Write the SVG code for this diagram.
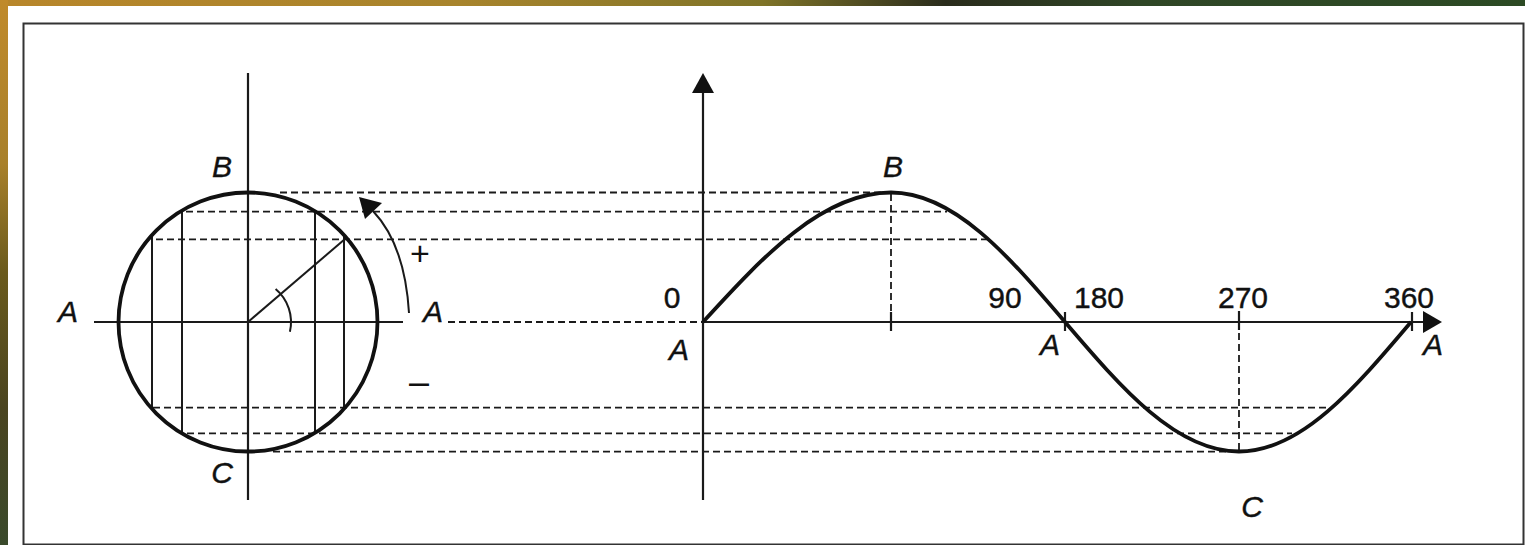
<svg xmlns="http://www.w3.org/2000/svg" width="1525" height="545" viewBox="0 0 1525 545">
  <defs>
    <linearGradient id="topStrip" x1="0" y1="0" x2="1" y2="0">
      <stop offset="0" stop-color="#b8862a"/>
      <stop offset="0.3" stop-color="#a8842c"/>
      <stop offset="0.5" stop-color="#7f7428"/>
      <stop offset="0.62" stop-color="#2a2c1c"/>
      <stop offset="0.75" stop-color="#2f4626"/>
      <stop offset="1" stop-color="#2c4a24"/>
    </linearGradient>
    <linearGradient id="leftStrip" x1="0" y1="0" x2="0" y2="1">
      <stop offset="0" stop-color="#c08a2a"/>
      <stop offset="0.3" stop-color="#a8802a"/>
      <stop offset="0.5" stop-color="#6a5a1c"/>
      <stop offset="0.75" stop-color="#4a4420"/>
      <stop offset="1" stop-color="#3a4a2c"/>
    </linearGradient>
    <style>
      .axis { stroke: #1a1a1a; stroke-width: 2.2; fill: none; }
      .thin { stroke: #1a1a1a; stroke-width: 2; fill: none; }
      .dash { stroke: #1a1a1a; stroke-width: 1.8; stroke-dasharray: 7 4; fill: none; }
      .heavy { stroke: #111; stroke-width: 3.8; fill: none; }
      .lbl { font-family: "Liberation Sans", Arial, sans-serif; font-size: 30px; fill: #111; stroke: #111; stroke-width: 0.4; text-anchor: middle; }
      .it { font-style: italic; }
    </style>
  </defs>

  <g id="background">
    <rect x="0" y="0" width="1525" height="545" fill="#ffffff"/>
    <rect x="0" y="0" width="1525" height="6" fill="url(#topStrip)"/>
    <rect x="0" y="0" width="8" height="545" fill="url(#leftStrip)"/>
    <rect x="23.5" y="23.5" width="1500" height="521" fill="none" stroke="#333" stroke-width="2"/>
  </g>

  <g id="connectors">
    <line class="dash" x1="280" y1="192.5" x2="884" y2="192.5"/>
    <line class="dash" x1="186" y1="211.7" x2="947" y2="211.7"/>
    <line class="dash" x1="156" y1="239.3" x2="990" y2="239.3"/>
    <line class="dash" x1="448" y1="322" x2="702" y2="322"/>
    <line class="dash" x1="153" y1="407.7" x2="1330" y2="407.7"/>
    <line class="dash" x1="187" y1="433.3" x2="1292" y2="433.3"/>
    <line class="dash" x1="273" y1="451.7" x2="1227" y2="451.7"/>
    <line class="dash" x1="891" y1="194" x2="891" y2="322"/>
    <line class="dash" x1="1239" y1="322" x2="1239" y2="450"/>
  </g>

  <g id="phasor-circle">
    <line class="axis" x1="248" y1="73" x2="248" y2="500"/>
    <line class="axis" x1="94" y1="322" x2="403" y2="322"/>
    <line class="thin" x1="152" y1="235" x2="152" y2="409"/>
    <line class="thin" x1="182" y1="210.6" x2="182" y2="433.4"/>
    <line class="thin" x1="315" y1="211" x2="315" y2="433"/>
    <line class="thin" x1="344" y1="235" x2="344" y2="409"/>
    <line class="thin" x1="248" y1="322" x2="345" y2="239"/>
    <path class="thin" d="M289.9,331.7 A43,43 0 0 0 275.6,289"/>
    <circle class="heavy" cx="248" cy="322" r="129.5"/>
    <path class="thin" d="M409,313 Q405,245 373,211"/>
    <polygon points="359,197 365,219 382,203" fill="#111"/>
  </g>

  <g id="sine-graph">
    <line class="axis" x1="703" y1="90" x2="703" y2="500"/>
    <polygon points="703,73 692,93 714,93" fill="#111"/>
    <line class="axis" x1="703" y1="322" x2="1425" y2="322"/>
    <polygon points="1442,322 1423,311 1423,333" fill="#111"/>
    <line class="axis" x1="891" y1="312" x2="891" y2="331"/>
    <line class="axis" x1="1065" y1="312" x2="1065" y2="331"/>
    <line class="axis" x1="1239" y1="311" x2="1239" y2="330"/>
    <line class="axis" x1="1412" y1="312" x2="1412" y2="331"/>
    <path class="heavy" d="M703,322 C763.6,255.7 822.6,192.5 891,192.5 C954,192.5 1008.3,255.7 1065,322 C1121.7,388.3 1176,451.5 1239,451.5 C1301.2,451.5 1354.9,388.3 1411,322"/>
  </g>

  <g id="labels">
    <text class="lbl it" x="68" y="322">A</text>
    <text class="lbl it" x="433" y="322">A</text>
    <text class="lbl it" x="222" y="177">B</text>
    <text class="lbl it" x="222" y="483">C</text>
    <text class="lbl" x="420" y="265" style="font-size:34px;stroke-width:0">+</text>
    <text class="lbl" x="419" y="394" style="font-size:36px;stroke-width:0">–</text>
    <text class="lbl" x="672" y="308">0</text>
    <text class="lbl it" x="679" y="360">A</text>
    <text class="lbl it" x="893" y="177">B</text>
    <text class="lbl" x="1005" y="308">90</text>
    <text class="lbl" x="1099" y="308">180</text>
    <text class="lbl" x="1243" y="308">270</text>
    <text class="lbl" x="1409" y="308">360</text>
    <text class="lbl it" x="1050" y="355">A</text>
    <text class="lbl it" x="1433" y="355">A</text>
    <text class="lbl it" x="1252" y="517">C</text>
  </g>
</svg>
